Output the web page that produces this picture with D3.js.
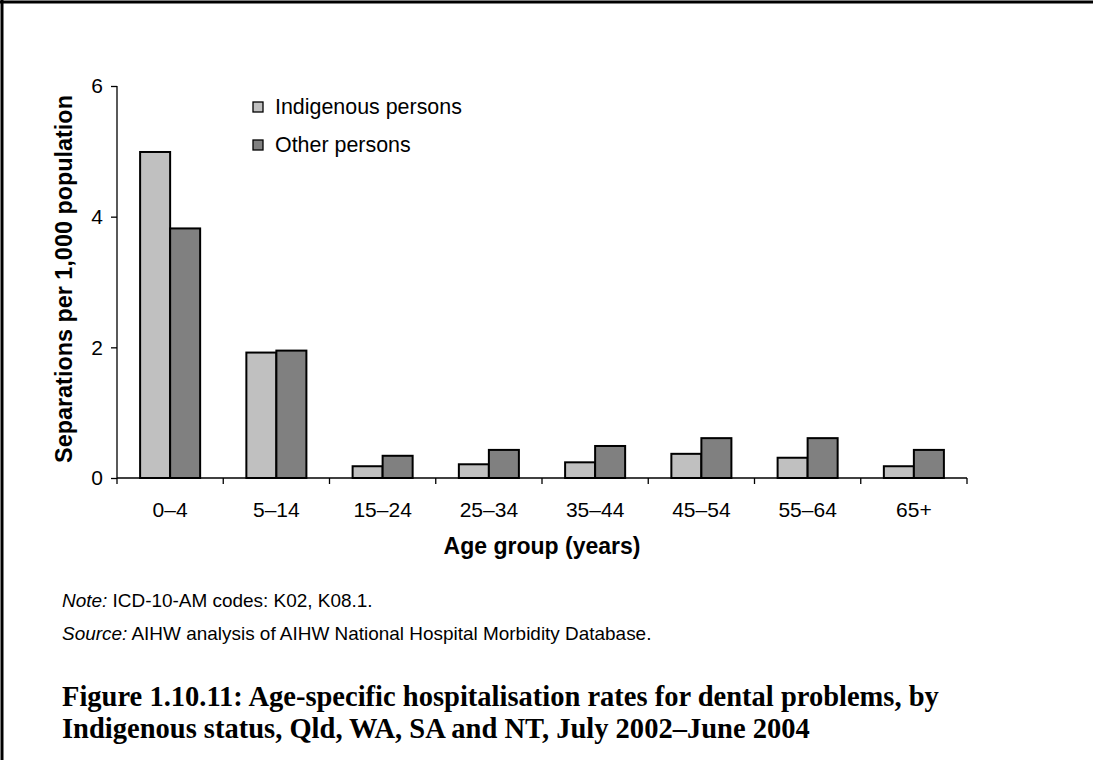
<!DOCTYPE html>
<html>
<head>
<meta charset="utf-8">
<script src="https://cdn.jsdelivr.net/npm/d3@7"></script>
<style>
  html, body { margin: 0; padding: 0; background: #fff; }
  svg { display: block; }
</style>
</head>
<body>
<svg id="chart" width="1093" height="760"></svg>
<script>
const categories = ["0–4", "5–14", "15–24", "25–34", "35–44", "45–54", "55–64", "65+"];
const seriesNames = ["Indigenous persons", "Other persons"];
const indigenous = [4.99, 1.92, 0.18, 0.21, 0.24, 0.37, 0.31, 0.18];
const other = [3.82, 1.95, 0.34, 0.43, 0.49, 0.61, 0.61, 0.43];
const yTicks = [0, 2, 4, 6];
const colors = ["#c0c0c0", "#808080"];
const yTitle = "Separations per 1,000 population";
const xTitle = "Age group (years)";
const noteLabel = "Note:";
const noteText = " ICD-10-AM codes: K02, K08.1.";
const sourceLabel = "Source:";
const sourceText = " AIHW analysis of AIHW National Hospital Morbidity Database.";
const titleLines = [
  "Figure 1.10.11: Age-specific hospitalisation rates for dental problems, by",
  "Indigenous status, Qld, WA, SA and NT, July 2002–June 2004"
];

const svg = d3.select("#chart");
const sans = "Arial, 'Liberation Sans', Helvetica, sans-serif";
const serif = "'Palatino Linotype', 'Book Antiqua', Palatino, 'Liberation Serif', 'DejaVu Serif', serif";

// frame (top and left rules)
svg.append("line").attr("x1", 0).attr("x2", 1093).attr("y1", 2).attr("y2", 2)
  .attr("stroke", "#000").attr("stroke-width", 3);
svg.append("line").attr("x1", 2).attr("x2", 2).attr("y1", 0).attr("y2", 760)
  .attr("stroke", "#000").attr("stroke-width", 3);

const plot = { left: 117, right: 967, top: 86, bottom: 478 };

const x0 = d3.scaleBand().domain(categories)
  .range([plot.left, plot.right]).paddingInner(0.435).paddingOuter(0.2175);
const x1 = d3.scaleBand().domain(seriesNames).range([0, x0.bandwidth()]);
const y = d3.scaleLinear().domain([0, 6]).range([plot.bottom, plot.top]);

function fit(sel, target) {
  const base = 100;
  sel.attr("font-size", base);
  const w = sel.node().getComputedTextLength();
  const fs = base * target / w;
  sel.attr("font-size", fs);
  return fs;
}

// bars
const data = categories.map((c, i) => ({ cat: c, vals: [
  { s: seriesNames[0], v: indigenous[i], c: colors[0] },
  { s: seriesNames[1], v: other[i], c: colors[1] }
]}));
const g = svg.append("g");
g.selectAll("g.grp").data(data).join("g").attr("class", "grp")
  .attr("transform", d => `translate(${x0(d.cat)},0)`)
  .selectAll("rect").data(d => d.vals).join("rect")
  .attr("x", d => x1(d.s))
  .attr("width", x1.bandwidth())
  .attr("y", d => y(d.v))
  .attr("height", d => y(0) - y(d.v))
  .attr("fill", d => d.c)
  .attr("stroke", "#000")
  .attr("stroke-width", 2);

// y axis
const yAxis = svg.append("g").attr("transform", `translate(${plot.left},0)`)
  .call(d3.axisLeft(y).tickValues(yTicks).tickSize(6).tickPadding(8).tickFormat(d3.format("d")));
yAxis.attr("font-size", null).attr("font-family", null);
yAxis.select(".domain").attr("stroke", "#000").attr("stroke-width", 1.3).attr("d", `M0,${plot.top}V${plot.bottom}`);
yAxis.selectAll(".tick line").attr("stroke", "#000").attr("stroke-width", 1.3);
yAxis.selectAll("text").attr("font-family", sans).attr("font-size", 21).attr("fill", "#000");

// x axis
const xAxis = svg.append("g");
xAxis.append("line").attr("x1", plot.left).attr("x2", plot.right)
  .attr("y1", plot.bottom).attr("y2", plot.bottom)
  .attr("stroke", "#000").attr("stroke-width", 1.3);
const step = x0.step();
xAxis.selectAll("line.tk").data(d3.range(categories.length + 1)).join("line")
  .attr("class", "tk")
  .attr("x1", i => plot.left + i * step).attr("x2", i => plot.left + i * step)
  .attr("y1", plot.bottom).attr("y2", plot.bottom + 6)
  .attr("stroke", "#000").attr("stroke-width", 1.3);
xAxis.selectAll("text").data(categories).join("text")
  .attr("x", d => x0(d) + x0.bandwidth() / 2)
  .attr("y", 510)
  .attr("dy", "0.35em")
  .attr("text-anchor", "middle")
  .attr("font-family", sans).attr("font-size", 21)
  .text(d => d);

// axis titles
const xt = svg.append("text").attr("x", (plot.left + plot.right) / 2).attr("y", 546)
  .attr("dy", "0.35em").attr("text-anchor", "middle")
  .attr("font-family", sans).attr("font-weight", "bold").text(xTitle);
fit(xt, 197);

const yt = svg.append("text")
  .attr("transform", `translate(64,${(95 + 463) / 2}) rotate(-90)`)
  .attr("dy", "0.35em").attr("text-anchor", "middle")
  .attr("font-family", sans).attr("font-weight", "bold").text(yTitle);
fit(yt, 368);

// legend
const leg = svg.append("g");
const legY = [107, 145];
let legFs = null;
seriesNames.forEach((name, i) => {
  leg.append("rect").attr("x", 253).attr("y", legY[i] - 5).attr("width", 10).attr("height", 10)
    .attr("fill", colors[i]).attr("stroke", "#000").attr("stroke-width", 1.3);
  const t = leg.append("text").attr("x", 275).attr("y", legY[i]).attr("dy", "0.35em")
    .attr("font-family", sans).text(name);
  if (i === 0) legFs = fit(t, 187); else t.attr("font-size", legFs);
});

// notes
const src = svg.append("text").attr("x", 62).attr("y", 633).attr("dy", "0.35em")
  .attr("font-family", sans);
src.append("tspan").attr("font-style", "italic").text(sourceLabel);
src.append("tspan").text(sourceText);
const noteFs = fit(src, 590);
const note = svg.append("text").attr("x", 62).attr("y", 600).attr("dy", "0.35em")
  .attr("font-family", sans).attr("font-size", noteFs);
note.append("tspan").attr("font-style", "italic").text(noteLabel);
note.append("tspan").text(noteText);

// title
const t1 = svg.append("text").attr("x", 62).attr("y", 706)
  .attr("font-family", serif).attr("font-weight", "bold").text(titleLines[0]);
const tfs = fit(t1, 877);
svg.append("text").attr("x", 62).attr("y", 738)
  .attr("font-family", serif).attr("font-weight", "bold").attr("font-size", tfs).text(titleLines[1]);
</script>
</body>
</html>
